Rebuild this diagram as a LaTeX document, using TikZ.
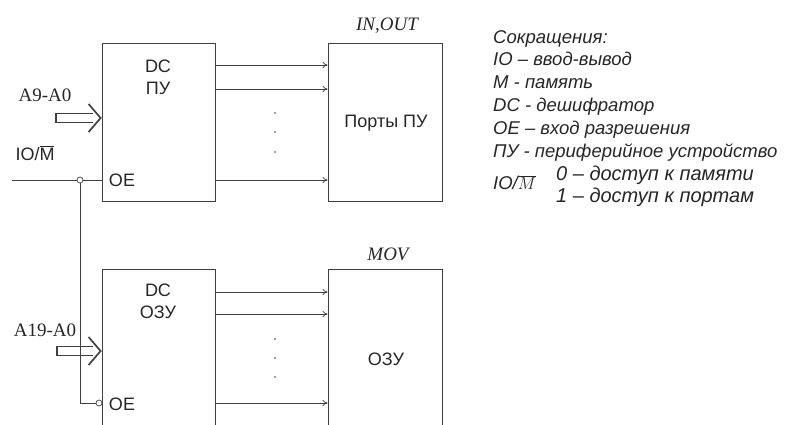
\documentclass[tikz,border=0pt]{standalone}
\usepackage{fontspec}
\setmainfont{Liberation Sans}
\newfontfamily\serifa{Liberation Serif}
\usetikzlibrary{arrows.meta,calc}
\colorlet{tinta}{black!75}
\tikzset{
  bloque/.style={draw=tinta, line width=0.8pt, inner sep=0pt},
  senal/.style={draw=tinta, line width=0.7pt, -{To[length=5pt,width=6pt]}},
  bus/.style={draw=tinta, line width=1.7pt, line join=miter},
  linea/.style={draw=tinta, line width=0.7pt},
  punto/.style={circle, draw=tinta, line width=0.7pt, fill=white, inner sep=0pt, minimum size=6pt},
  etiq/.style={font=\serifa\fontsize{19}{21}\selectfont},
  etiqit/.style={font=\serifa\itshape\fontsize{19}{21}\selectfont},
}
\begin{document}
\begin{tikzpicture}[x=1pt,y=-1pt,text=black!85,font=\fontsize{18}{22}\selectfont]
    \useasboundingbox (0,0) rectangle (790,424);
    \clip (0,0) rectangle (790,424);

    % Bloques
    \node[bloque, minimum width=113pt, minimum height=158pt] (dcpu) at (158.5,122) {};
    \node[bloque, minimum width=114pt, minimum height=158pt] (puertos) at (385,122) {};
    \node[bloque, minimum width=113pt, minimum height=171pt] (dcozu) at (158.5,354.5) {};
    \node[bloque, minimum width=114pt, minimum height=171pt] (ozu) at (385,354.5) {};

    % Textos de los bloques
    \node[align=center] (dcpu-t) at (158,77) {DC\\ПУ};
    \node (puertos-t) at (386,123) {Порты ПУ};
    \node[align=center] (dcozu-t) at (158,301) {DC\\ОЗУ};
    \node (ozu-t) at (386,359) {ОЗУ};
    \node[etiqit] (inout) at (387,26) {IN,OUT};
    \node[etiqit] (mov) at (388,254) {MOV};

    % Salidas de los decodificadores
    \foreach \y in {65,89,180}
        \draw[senal] (dcpu.east |- 0,\y) -- (puertos.west |- 0,\y);
    \foreach \y in {292,314,403}
        \draw[senal] (dcozu.east |- 0,\y) -- (ozu.west |- 0,\y);
    \foreach \y in {113,132,152,339,358,377}
        \fill[tinta] (275,\y) circle (0.9pt);

    % Buses de direcciones
    \coordinate (a9) at (56,118);
    \coordinate (p9) at (dcpu.west |- a9);
    \coordinate (a19) at (57,351);
    \coordinate (p19) at (dcozu.west |- a19);
    \foreach \a/\p in {a9/p9, a19/p19} {
        \draw[bus] ($(\p)+(-9,-4.5)$) -- ($(\a)+(0,-4.5)$) -- ($(\a)+(0,4.5)$) -- ($(\p)+(-9,4.5)$);
        \draw[bus] ($(\p)+(-13,-14)$) -- ($(\p)+(-1,0)$) -- ($(\p)+(-13,14)$);
    }
    \node[etiq] (a9-t) at (45,95) {A9-A0};
    \node[etiq] (a19-t) at (45,330) {A19-A0};

    % Senal IO/M
    \coordinate (iom) at (12,180);
    \node (iom-t) at (35,153) {IO/$\overline{\mbox{M}}$};
    \node[punto] (nodo) at (80,180) {};
    \node[punto] (inv) at (99,403) {};
    \draw[linea] (iom) -- (nodo.west);
    \draw[linea] (nodo.east) -- (dcpu.west |- nodo);
    \draw[linea] (nodo.south) |- (inv.west);
    \node (oe1) at (122,180) {OE};
    \node (oe2) at (122,404) {OE};

    % Abreviaturas
    \node[anchor=base west, align=left, inner sep=0pt,
          font=\itshape\fontsize{18.5}{22.8}\selectfont] (leyenda) at (493,157) {%
        Сокращения:\\
        IO – ввод-вывод\\
        M - память\\
        DC - дешифратор\\
        OE – вход разрешения\\
        ПУ - периферийное устройство};
    \node[anchor=west, inner sep=0pt, font=\itshape\fontsize{18.5}{22}\selectfont] (iom-l) at (493,183) {IO/$\overline{M}$};
    \node[anchor=west, align=left, inner sep=0pt,
          font=\itshape\fontsize{20}{22}\selectfont] (valores) at (556,186) {%
        0 – доступ к памяти\\
        1 – доступ к портам};
\end{tikzpicture}
\end{document}
